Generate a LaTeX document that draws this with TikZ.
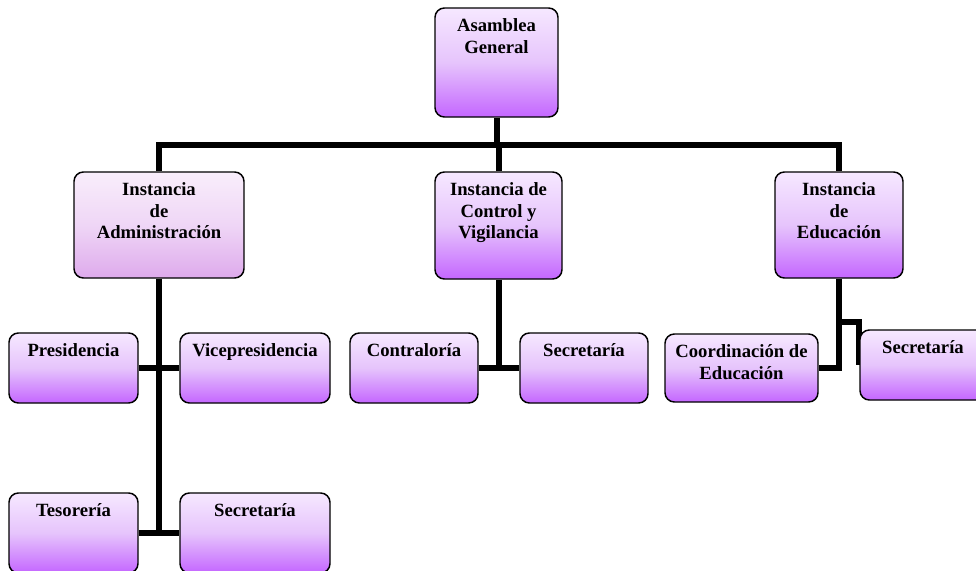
\documentclass[tikz,border=0pt]{standalone}
\usepackage{fontspec}
\setmainfont{Liberation Serif}
\usetikzlibrary{fit,backgrounds}
\definecolor{vtop}{RGB}{246,232,255}
\definecolor{vmid}{RGB}{230,196,252}
\definecolor{vbot}{RGB}{196,102,255}
\definecolor{atop}{RGB}{249,238,251}
\definecolor{amid}{RGB}{239,214,246}
\definecolor{abot}{RGB}{222,170,236}
\tikzset{
 box/.style={draw=black, line width=1.1pt, rounded corners=7pt, inner sep=0pt,
   top color=vtop, bottom color=vbot, middle color=vmid},
 boxadm/.style={box, top color=atop, bottom color=abot, middle color=amid},
 lbl/.style={anchor=north, inner sep=0pt, align=center,
   font=\fontsize{14}{16}\selectfont\bfseries, yshift=-8.5pt},
 conn/.style={line width=4.5pt, line cap=butt, draw=black},
}
\begin{document}
\begin{tikzpicture}[x=0.75pt,y=-0.75pt]
\useasboundingbox (0,0) rectangle (976,571);
\clip (0,0) rectangle (976,571);
% boxes
\node[box, fit={(435,8)(558,117)}] (ag) {};
\node[lbl] (agt) at (ag.north) {Asamblea\\General};
\node[boxadm, fit={(74,172)(244,278)}] (ia) {};
\node[lbl] (iat) at (ia.north) {Instancia\\de\\Administración};
\node[box, fit={(435,172)(562,279)}] (ic) {};
\node[lbl] (ict) at (ic.north) {Instancia de\\Control y\\Vigilancia};
\node[box, fit={(775,172)(903,278)}] (ie) {};
\node[lbl] (iet) at (ie.north) {Instancia\\de\\Educación};
\node[box, fit={(9,333)(138,403)}] (pres) {};
\node[lbl] (prest) at (pres.north) {Presidencia};
\node[box, fit={(180,333)(330,403)}] (vice) {};
\node[lbl] (vicet) at (vice.north) {Vicepresidencia};
\node[box, fit={(9,493)(138,573)}] (teso) {};
\node[lbl] (tesot) at (teso.north) {Tesorería};
\node[box, fit={(180,493)(330,573)}] (seca) {};
\node[lbl] (secat) at (seca.north) {Secretaría};
\node[box, fit={(350,333)(478,403)}] (contra) {};
\node[lbl] (contrat) at (contra.north) {Contraloría};
\node[box, fit={(520,333)(648,403)}] (secb) {};
\node[lbl] (secbt) at (secb.north) {Secretaría};
\node[box, fit={(665,334)(818,402)}] (coord) {};
\node[lbl] (coordt) at (coord.north) {Coordinación de\\Educación};
\node[box, fit={(860,330)(986,400)}] (secc) {};
\node[lbl] (secct) at (secc.north) {Secretaría};
% connectors
\begin{pgfonlayer}{background}
\coordinate (bar) at (0,145);
\coordinate (jog) at (839,322);
\draw[conn] (ag.south) -- (ag.south |- bar);
\draw[conn] (ia.north) -- (ia.north |- bar) -- (ie.north |- bar) -- (ie.north);
\draw[conn] (ic.north) -- (ic.north |- bar);
\draw[conn] (ia.south) -- (ia.south |- teso.east);
\draw[conn] (pres.east) -- (vice.west);
\draw[conn] (teso.east) -- (seca.west);
\draw[conn] (ic.south) -- (ic.south |- contra.east);
\draw[conn] (contra.east) -- (secb.west);
\draw[conn] (ie.south) -- (ie.south |- coord.east) -- (coord.east);
\draw[conn] (jog) -- (jog -| secc.west) -- (secc.west);
\end{pgfonlayer}
\end{tikzpicture}
\end{document}
